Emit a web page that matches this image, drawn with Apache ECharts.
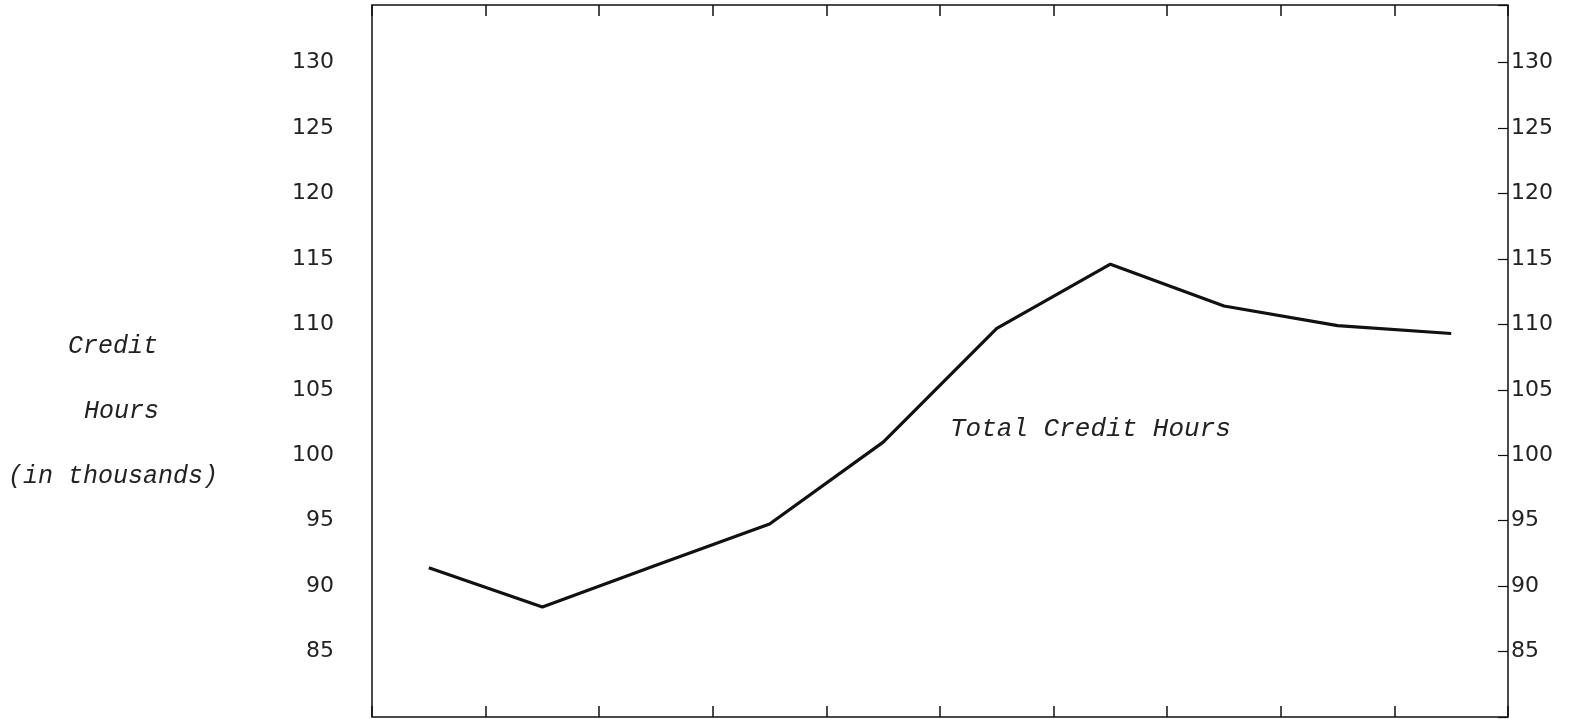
<!DOCTYPE html>
<html lang="en">
<head>
  <meta charset="UTF-8">
  <title>Total Credit Hours</title>
  <script src="https://cdn.jsdelivr.net/npm/echarts/dist/echarts.min.js"></script>
  <style>
    html, body { margin: 0; padding: 0; background: #fff; }
    #chart { width: 1570px; height: 719px; }
  </style>
</head>
<body>
<div id="chart"></div>
<script>
// ten unlabeled periods along the x axis
const periods = ['1', '2', '3', '4', '5', '6', '7', '8', '9', '10'];
// total credit hours, in thousands
const creditHours = [91.4, 88.4, 91.6, 94.75, 101.0, 109.7, 114.6, 111.4, 109.9, 109.3];
const yTickLabels = [85, 90, 95, 100, 105, 110, 115, 120, 125, 130];

const chart = echarts.init(document.getElementById('chart'));

const typewriter = {
  fontFamily: 'Liberation Mono',
  fontStyle: 'italic',
  fontSize: 25,
  fill: '#222'
};

function tickLabel(v) {
  return yTickLabels.indexOf(v) >= 0 ? String(v) : '';
}

const xAxisBase = {
  type: 'category',
  data: periods,
  boundaryGap: true,
  axisLine: { show: false },
  axisLabel: { show: false },
  axisTick: { show: true, inside: true, length: 11, lineStyle: { color: '#111', width: 1.5 } },
  splitLine: { show: false }
};

chart.setOption({
  backgroundColor: '#fff',
  animation: false,
  grid: {
    left: 372, top: 5, width: 1136, height: 712,
    show: true, borderColor: '#111', borderWidth: 1.5, backgroundColor: 'transparent'
  },
  xAxis: [
    Object.assign({ position: 'bottom' }, xAxisBase),
    Object.assign({ position: 'top' }, xAxisBase)
  ],
  yAxis: [
    {
      type: 'value', position: 'left', min: 80, max: 134.4, interval: 5,
      axisLine: { show: false },
      axisTick: { show: false },
      splitLine: { show: false },
      axisLabel: {
        margin: 38, color: '#222', fontFamily: 'DejaVu Sans', fontSize: 22,
        formatter: tickLabel
      }
    },
    {
      type: 'value', position: 'right', min: 80, max: 134.4, interval: 5,
      axisLine: { show: false },
      axisTick: { show: true, inside: true, length: 10, lineStyle: { color: '#111', width: 1.2 } },
      splitLine: { show: false },
      axisLabel: {
        margin: 3, color: '#222', fontFamily: 'DejaVu Sans', fontSize: 22,
        formatter: tickLabel
      }
    }
  ],
  graphic: [
    { type: 'text', left: 68, top: 334, style: Object.assign({ text: 'Credit' }, typewriter) },
    { type: 'text', left: 84, top: 399, style: Object.assign({ text: 'Hours' }, typewriter) },
    { type: 'text', left: 8, top: 464, style: Object.assign({ text: '(in thousands)' }, typewriter) },
    { type: 'text', left: 950, top: 416, style: Object.assign({ text: 'Total Credit Hours' }, typewriter, { fontSize: 26 }) }
  ],
  series: [
    {
      name: 'Total Credit Hours',
      type: 'line',
      data: creditHours,
      symbol: 'none',
      lineStyle: { color: '#111', width: 3.2 }
    }
  ]
});
</script>
</body>
</html>
